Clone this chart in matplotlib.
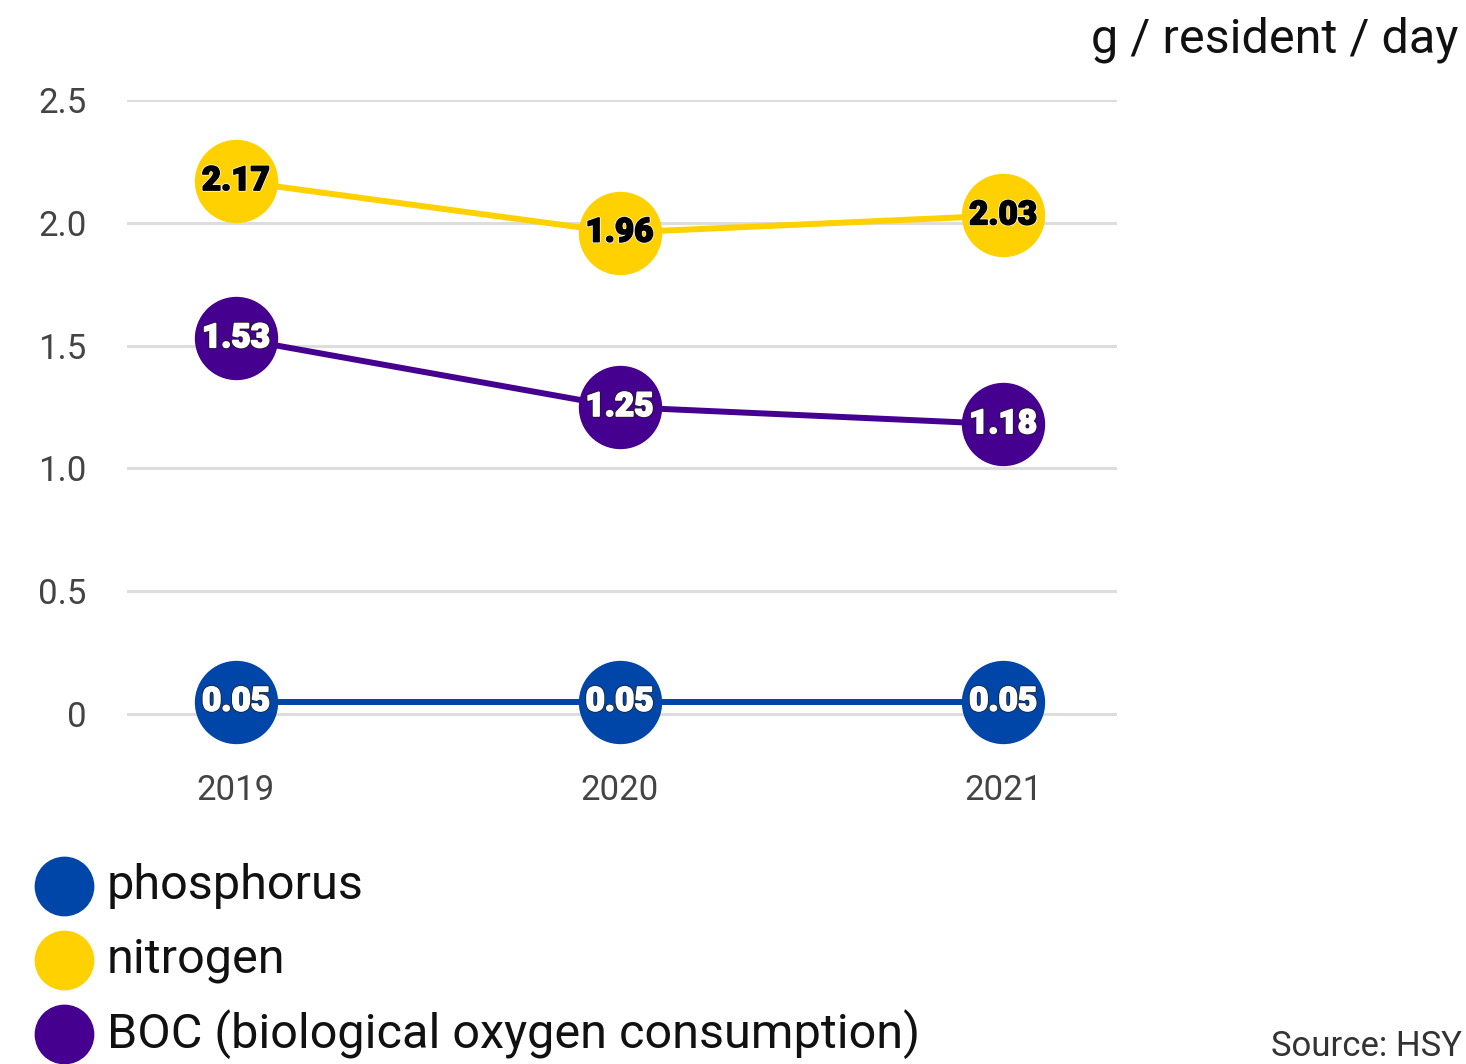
import matplotlib.pyplot as plt
import matplotlib.patheffects as pe

# Data
years = ["2019", "2020", "2021"]
phosphorus = [0.05, 0.05, 0.05]
nitrogen = [2.17, 1.96, 2.03]
boc = [1.53, 1.25, 1.18]
y_ticks = [0, 0.5, 1.0, 1.5, 2.0, 2.5]
y_tick_labels = ["0", "0.5", "1.0", "1.5", "2.0", "2.5"]
series_names = ["phosphorus", "nitrogen", "BOC (biological oxygen consumption)"]

BLUE = "#0046A8"
YELLOW = "#FFD100"
PURPLE = "#46008F"

plt.rcParams["font.family"] = ["Roboto", "DejaVu Sans"]

W, H = 1466, 1064
fig = plt.figure(figsize=(W / 100, H / 100), dpi=100)
# plot area: x from 127 to 1117 px, y=0 at 714 px, y=2.5 at 100 px
ymin = -0.05
px_per_unit = 614 / 2.5
bottom_px = 714 - ymin * px_per_unit
ax = fig.add_axes([127 / W, 1 - bottom_px / H, 990 / W, (bottom_px - 100) / H])

x = list(range(len(years)))
series = [
    (phosphorus, BLUE, "white", "#1a1a1a"),
    (nitrogen, YELLOW, "black", "white"),
    (boc, PURPLE, "white", "#1a1a1a"),
]

for values, color, txt_color, stroke in series:
    ax.plot(x, values, color=color, lw=4.3, marker="o", markersize=60,
            markeredgewidth=0, clip_on=False, zorder=3)
    for xi, v in zip(x, values):
        ax.text(xi, v, f"{v:.2f}", ha="center", va="center", fontsize=24,
                fontweight="heavy", color=txt_color, zorder=4,
                path_effects=[pe.Stroke(linewidth=2.2, foreground=stroke),
                              pe.Stroke(linewidth=1.2, foreground=txt_color),
                              pe.Normal()])

ax.set_xlim(-0.284, 2.297)
ax.set_ylim(ymin, 2.5)
ax.set_xticks(x)
ax.set_xticklabels(years)
ax.set_yticks(y_ticks)
ax.set_yticklabels(y_tick_labels)
ax.tick_params(axis="both", length=0, labelsize=25, labelcolor="#444444")
ax.tick_params(axis="y", pad=29)
ax.tick_params(axis="x", pad=34)
ax.grid(axis="y", color="#dddddd", lw=2.2)
ax.grid(axis="x", visible=False)
ax.set_axisbelow(True)
for s in ax.spines.values():
    s.set_visible(False)

# overlay in pixel coordinates for labels and legend
lax = fig.add_axes([0, 0, 1, 1])
lax.set_xlim(0, W)
lax.set_ylim(H, 0)
lax.axis("off")
lax.patch.set_alpha(0)

lax.text(1458, 40, "g / resident / day", ha="right", va="center",
         fontsize=35, color="#111111")

legend_colors = [BLUE, YELLOW, PURPLE]
for i, (name, c) in enumerate(zip(series_names, legend_colors)):
    yy = 886 + i * 74
    lax.plot([64], [yy], marker="o", markersize=42, color=c, lw=0,
             clip_on=False)
    lax.text(107, yy, name, ha="left", va="center", fontsize=35,
             color="#111111")

lax.text(1462, 1046, "Source: HSY", ha="right", va="center",
         fontsize=25, color="#333333")

fig.savefig("out.png", dpi=100)
